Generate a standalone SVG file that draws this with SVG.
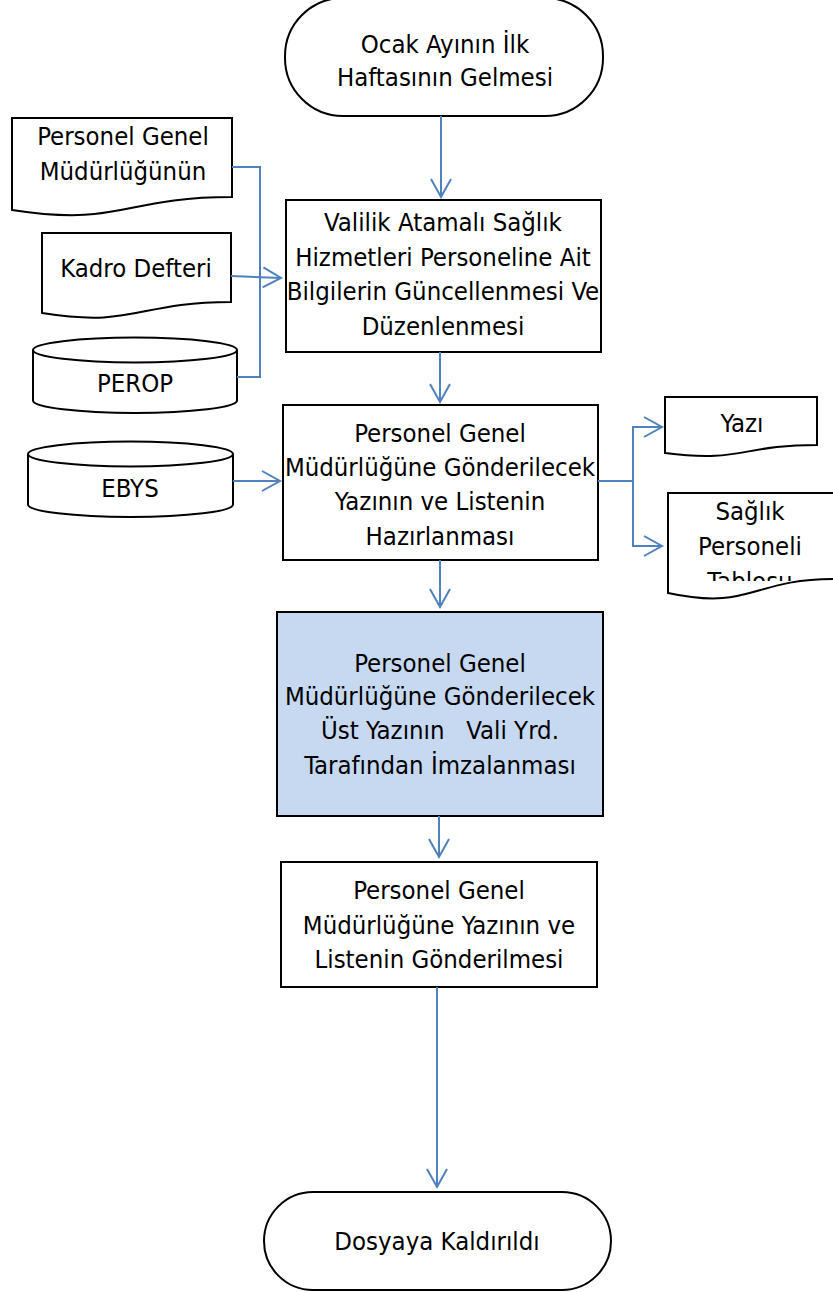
<svg xmlns="http://www.w3.org/2000/svg" width="833" height="1292" viewBox="0 0 833 1292">
<style>
.s{fill:#fff;stroke:#000;stroke-width:2}
.b{fill:#C6D9F1;stroke:#000;stroke-width:2}
.t{font-family:"DejaVu Sans Condensed","DejaVu Sans",sans-serif;font-size:25.5px;fill:#000;text-anchor:middle}
.c{fill:none;stroke:#4F81BD;stroke-width:2}
</style>
<defs>
<marker id="ah" markerUnits="userSpaceOnUse" markerWidth="24" markerHeight="24" viewBox="-20 -12 22 24" refX="0" refY="0" orient="auto" overflow="visible">
<path d="M-18,-10 L0,0 L-18,10" fill="none" stroke="#4F81BD" stroke-width="2"/>
</marker>
<clipPath id="cl1"><rect x="660" y="490" width="180" height="91"/></clipPath>
</defs>
<rect width="833" height="1292" fill="#fff"/>

<g id="start">
<rect class="s" x="285" y="-2" width="318" height="118" rx="58" ry="58"/>
<text class="t" x="445" y="53">Ocak Ayının İlk</text>
<text class="t" x="445" y="86">Haftasının Gelmesi</text>
</g>

<g id="doc1">
<path class="s" d="M12,118 H232 V197 C122,197 122,227 12,210 Z"/>
<text class="t" x="123" y="145">Personel Genel</text>
<text class="t" x="123" y="180">Müdürlüğünün</text>
</g>

<g id="doc2">
<path class="s" d="M42,233 H231 V302 C136,302 136,328 42,313 Z"/>
<text class="t" x="136" y="277">Kadro Defteri</text>
</g>

<g id="perop">
<path class="s" d="M33,350 A102,12.5 0 0 1 237,350 V400.5 A102,12.5 0 0 1 33,400.5 Z"/>
<path class="s" fill="none" d="M33,350 A102,12.5 0 0 0 237,350"/>
<text class="t" x="135" y="392">PEROP</text>
</g>

<g id="ebys">
<path class="s" d="M28,454 A102.5,12.5 0 0 1 233,454 V504.5 A102.5,12.5 0 0 1 28,504.5 Z"/>
<path class="s" fill="none" d="M28,454 A102.5,12.5 0 0 0 233,454"/>
<text class="t" x="130" y="497">EBYS</text>
</g>

<g id="box1">
<rect class="s" x="286" y="200" width="315" height="152"/>
<text class="t" x="443" y="231">Valilik Atamalı Sağlık</text>
<text class="t" x="443" y="266">Hizmetleri Personeline Ait</text>
<text class="t" x="443" y="300">Bilgilerin Güncellenmesi Ve</text>
<text class="t" x="443" y="335">Düzenlenmesi</text>
</g>

<g id="box2">
<rect class="s" x="283" y="405" width="315" height="155"/>
<text class="t" x="440" y="442">Personel Genel</text>
<text class="t" x="440" y="476">Müdürlüğüne Gönderilecek</text>
<text class="t" x="440" y="510">Yazının ve Listenin</text>
<text class="t" x="440" y="545">Hazırlanması</text>
</g>

<g id="yazi">
<path class="s" d="M665,397 H817 V445 C741,445 741,463 665,453 Z"/>
<text class="t" x="742" y="432">Yazı</text>
</g>

<g id="tablo">
<path class="s" d="M668,493 H834 V579 C751,579 751,611 668,593 Z"/>
<text class="t" x="750" y="520">Sağlık</text>
<text class="t" x="750" y="555">Personeli</text>
<text class="t" x="750" y="590" clip-path="url(#cl1)">Tablosu</text>
</g>

<g id="box3">
<rect class="b" x="277" y="612" width="326" height="204"/>
<text class="t" x="440" y="672">Personel Genel</text>
<text class="t" x="440" y="705">Müdürlüğüne Gönderilecek</text>
<text class="t" x="440" y="739" xml:space="preserve">Üst Yazının   Vali Yrd.</text>
<text class="t" x="440" y="774">Tarafından İmzalanması</text>
</g>

<g id="box4">
<rect class="s" x="281" y="862" width="316" height="125"/>
<text class="t" x="439" y="899">Personel Genel</text>
<text class="t" x="439" y="934">Müdürlüğüne Yazının ve</text>
<text class="t" x="439" y="968">Listenin Gönderilmesi</text>
</g>

<g id="end">
<rect class="s" x="264" y="1192" width="347" height="98" rx="49" ry="49"/>
<text class="t" x="437" y="1250">Dosyaya Kaldırıldı</text>
</g>

<g id="connectors">
<path class="c" d="M441,116 V197" marker-end="url(#ah)"/>
<path class="c" d="M232,167 H260 V377 H237"/>
<path class="c" d="M231,276 L281,278" marker-end="url(#ah)"/>
<path class="c" d="M440,352 V402" marker-end="url(#ah)"/>
<path class="c" d="M233,481 H280" marker-end="url(#ah)"/>
<path class="c" d="M598,481 H633 V427 H662" marker-end="url(#ah)"/>
<path class="c" d="M633,481 V546 H662" marker-end="url(#ah)"/>
<path class="c" d="M440,560 V607" marker-end="url(#ah)"/>
<path class="c" d="M439,816 V857" marker-end="url(#ah)"/>
<path class="c" d="M437,987 V1187" marker-end="url(#ah)"/>
</g>
</svg>
